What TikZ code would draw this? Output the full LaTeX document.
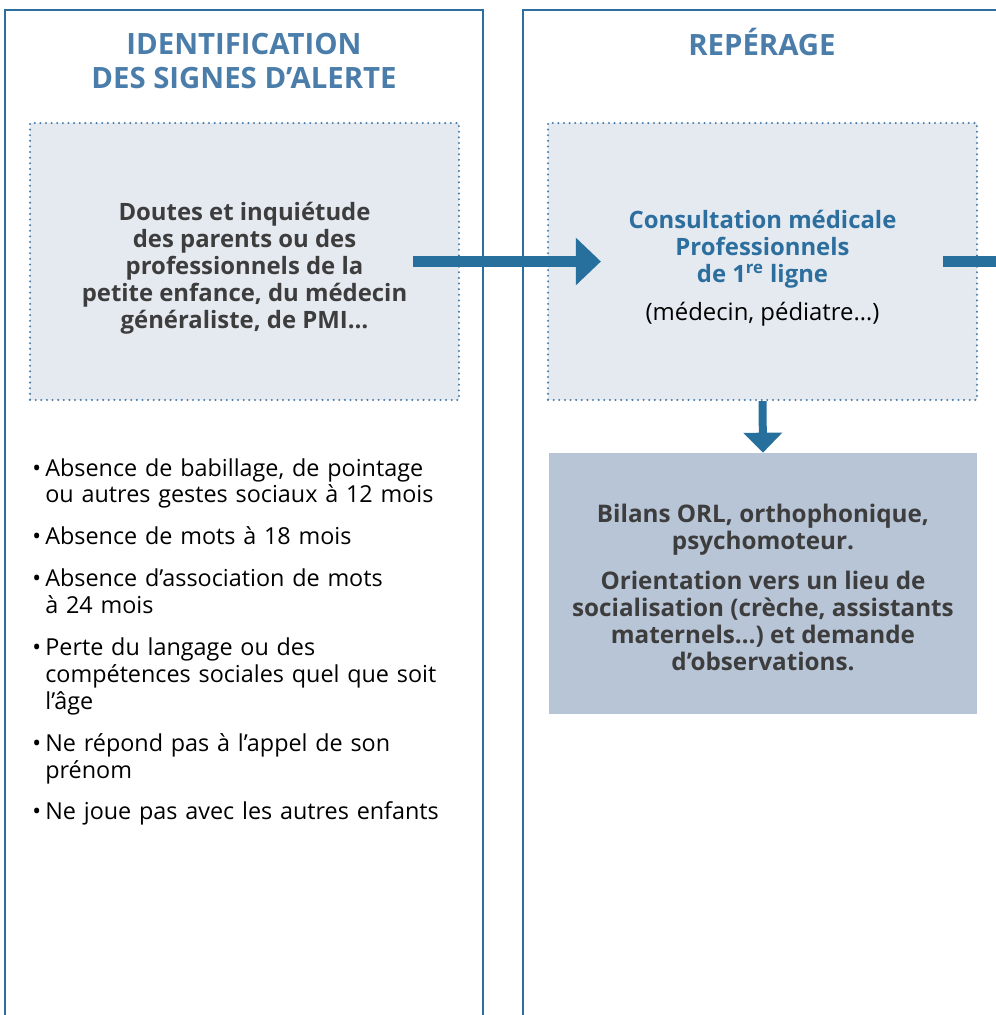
\documentclass[tikz,border=0pt]{standalone}
\usepackage{fontspec}
\setmainfont{Open Sans}
\usetikzlibrary{arrows.meta}

\definecolor{bleutitre}{HTML}{4A7DAA}
\definecolor{bleucadre}{HTML}{2C6E9E}
\definecolor{bleufleche}{HTML}{27709E}
\definecolor{fondclair}{HTML}{E5EAF1}
\definecolor{fondfonce}{HTML}{B8C5D7}
\definecolor{grisfonce}{HTML}{3D3D3D}

% one bullet of the list
\newcommand{\signe}[1]{\hangindent=0.26cm\hangafter=1\noindent\makebox[0.26cm][l]{•}#1\par\vspace{0.3cm}}

\begin{document}
\begin{tikzpicture}[x=0.02cm,y=-0.02cm,
  colonne/.style={draw=bleucadre,line width=1.1pt},
  entete/.style={text=bleutitre,align=center,font=\fontsize{16.7}{18.8}\selectfont\bfseries},
  pointille/.style={draw=bleutitre,fill=fondclair,line width=1.3pt,dash pattern=on 0pt off 3.2pt,line cap=round,
    minimum width=8.58cm,minimum height=5.54cm},
  plein/.style={fill=fondfonce,minimum width=8.56cm,minimum height=5.22cm},
  texte/.style={align=center,font=\fontsize{13.6}{15.4}\selectfont\bfseries},
  fleche/.style={draw=bleufleche,line width=0.21cm,-{Triangle[length=0.5cm,width=0.92cm]}},
  flechebas/.style={draw=bleufleche,line width=0.16cm,-{Triangle[length=0.4cm,width=0.76cm]}}
]
  \useasboundingbox (0,0) rectangle (996,1015);

  % columns
  \draw[colonne] (5,1015) -- (5,10) -- (483,10) -- (483,1015);
  \draw[colonne] (523,1015) -- (523,10) -- (996,10);

  \node[entete] (Ident) at (244,61) {IDENTIFICATION\\DES SIGNES D’ALERTE};
  \node[entete] (Reper) at (762,42) {REPÉRAGE};

  % Identification
  \node[pointille] (Doutes) at (244.5,261.5) {};
  \node[texte,text=grisfonce] (DoutesTxt) at ([yshift=-0.14cm]Doutes.center)
    {Doutes et inquiétude\\des parents ou des\\professionnels de la\\petite enfance, du médecin\\généraliste, de PMI…};

  \node[anchor=north west,inner sep=0pt,text width=9cm,align=left,font=\fontsize{13.3}{15.3}\selectfont] (Signes) at (32,458)
    {\signe{Absence de babillage, de pointage\newline ou autres gestes sociaux à 12 mois}
     \signe{Absence de mots à 18 mois}
     \signe{Absence d’association de mots\newline à 24 mois}
     \signe{Perte du langage ou des\newline compétences sociales quel que soit\newline l’âge}
     \signe{Ne répond pas à l’appel de son\newline prénom}
     \signe{Ne joue pas avec les autres enfants}};

  % Reperage
  \node[pointille] (Consult) at (762.5,261.5) {};
  \node[texte,text=bleucadre] (ConsultTxt) at ([yshift=-0.14cm]Consult.center)
    {Consultation médicale\\Professionnels\\de 1\textsuperscript{re} ligne\\[0.22cm]{\normalfont\color{black}(médecin, pédiatre…)}};

  \node[plein] (Bilans) at (763,583.5) {};
  \node[texte,text=grisfonce,font=\fontsize{13.8}{15.3}\selectfont\bfseries] (BilansTxt) at ([yshift=-0.08cm]Bilans.center)
    {Bilans ORL, orthophonique,\\psychomoteur.\\[0.26cm]Orientation vers un lieu de\\socialisation (crèche, assistants\\maternels…) et demande\\d’observations.};

  \coordinate (Suite) at (996,261.5);

  \draw[fleche] ([xshift=-0.94cm]Doutes.east) -- ([xshift=1.08cm]Consult.west);
  \draw[draw=bleufleche,line width=0.21cm] ([xshift=-0.7cm]Consult.east) -- (Suite);
  \draw[flechebas] (Consult.south) -- (Bilans.north);
\end{tikzpicture}
\end{document}
